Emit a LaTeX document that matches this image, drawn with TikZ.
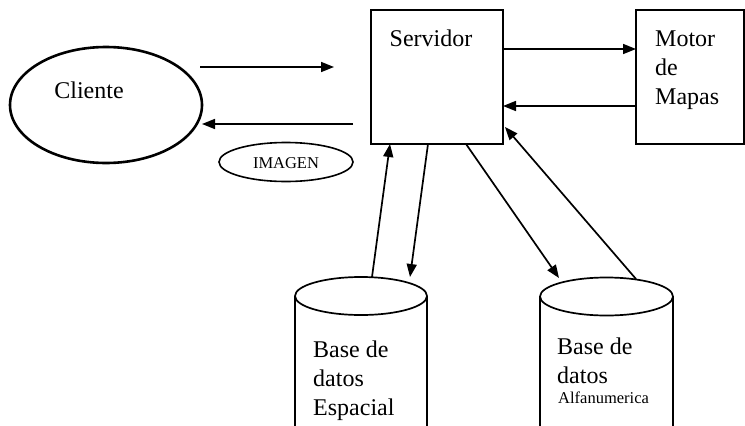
\documentclass[tikz,border=0pt]{standalone}
\usepackage{fontspec}
\setmainfont{Liberation Serif}
\usetikzlibrary{arrows.meta,shapes.geometric}
\begin{document}
\begin{tikzpicture}[x=1pt,y=-1pt,
  line/.style={line width=1.7pt},
  flow/.style={line, -{Triangle[length=13pt,width=10pt]}},
  box/.style={draw, line width=1.7pt, rectangle, inner sep=0pt},
  big/.style={font=\fontsize{24}{29}\selectfont, inner sep=0pt},
  small/.style={font=\fontsize{16.5}{19}\selectfont, inner sep=0pt}]
\useasboundingbox (0,0) rectangle (745,426);
\clip (0,0) rectangle (745,426);

% client
\node[draw, ellipse, line width=2.6pt, minimum width=192pt, minimum height=116pt, inner sep=0pt] (cli) at (106,105) {};
\node[big] (clitxt) at (89,90) {Cliente};

% image bubble
\node[draw, ellipse, line width=1.6pt, minimum width=134pt, minimum height=39pt, inner sep=0pt] (img) at (286,162) {};
\node[small] (imgtxt) at (286,163) {IMAGEN};

% server and map engine
\node[box, minimum width=132pt, minimum height=134pt] (srv) at (437,77) {};
\node[big] (srvtxt) at (431,38) {Servidor};
\node[box, minimum width=108pt, minimum height=134pt] (mot) at (690,77) {};
\node[big, anchor=north west, align=left] (mottxt) at (655,31) {Motor\\de\\Mapas};

% databases
\draw[line] (295,296) -- (295,430) (427,296) -- (427,430);
\node[draw, ellipse, line width=1.7pt, minimum width=132pt, minimum height=38pt, inner sep=0pt] (db1) at (361,296) {};
\node[big, anchor=north west, align=left] (db1txt) at (313,341) {Base de\\datos\\Espacial};

\draw[line] (540,296) -- (540,430) (673,296) -- (673,430);
\node[draw, ellipse, line width=1.7pt, minimum width=133pt, minimum height=38pt, inner sep=0pt] (db2) at (606.5,296.5) {};
\node[big, anchor=north west, align=left] (db2txt) at (557,338) {Base de\\datos};
\node[small, anchor=west] (db2sub) at (558,398) {Alfanumerica};

% attachment points
\coordinate (c1) at (200,67);  \coordinate (s1) at (334,67);
\coordinate (s2) at (353,124); \coordinate (c2) at (202,124);
\coordinate (s3) at (503,49);  \coordinate (m3) at (636,49);
\coordinate (m4) at (636,106); \coordinate (s4) at (503,106);
\coordinate (d1) at (372,277); \coordinate (s5) at (390,144);
\coordinate (s6) at (428,144); \coordinate (d2) at (410,277);
\coordinate (s7) at (466,144); \coordinate (d3) at (559,278);
\coordinate (d4) at (636,279); \coordinate (s8) at (505,127);

\draw[flow] (c1) -- (s1);
\draw[flow] (s2) -- (c2);
\draw[flow] (s3) -- (m3);
\draw[flow] (m4) -- (s4);
\draw[flow] (d1) -- (s5);
\draw[flow] (s6) -- (d2);
\draw[flow] (s7) -- (d3);
\draw[flow] (d4) -- (s8);
\end{tikzpicture}
\end{document}
